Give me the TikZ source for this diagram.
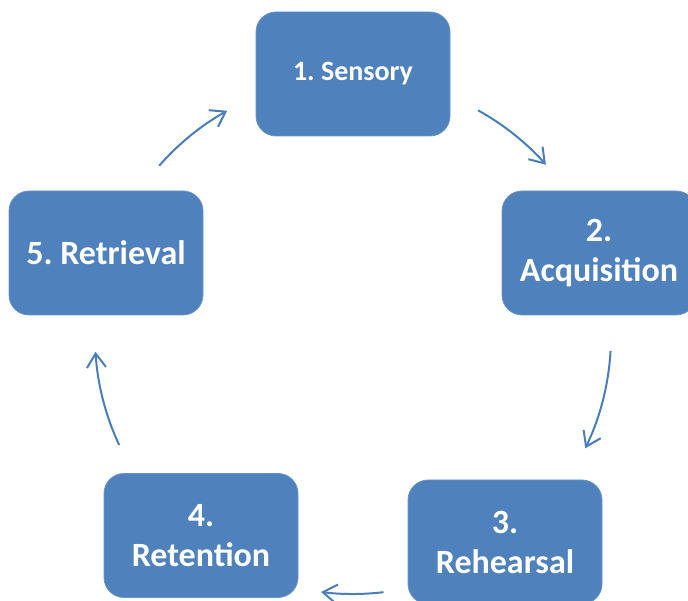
\documentclass[tikz,border=0pt]{standalone}
\usepackage{fontspec}
\setmainfont{Carlito}
\usetikzlibrary{arrows.meta,calc}
\definecolor{stageblue}{HTML}{4F81BD}
\definecolor{arrowblue}{HTML}{4A7EBB}
\frenchspacing
\begin{document}
\begin{tikzpicture}[x=1pt,y=1pt,
  stagebox/.style={rectangle, rounded corners=20pt, fill=stageblue, draw=stageblue!85!white,
    line width=0.8pt, minimum width=194pt, minimum height=124pt, inner sep=0pt,
    text=white, align=center, font=\bfseries\fontsize{34}{40}\selectfont},
  cyclearrow/.style={draw=arrowblue, line width=2pt,
    -{Straight Barb[length=14pt,width=19pt,line width=2pt]}}]
  \clip (0,0) rectangle (688,601);
  \useasboundingbox (0,0) rectangle (688,601);

  % the five stages
  \node[stagebox, font=\bfseries\fontsize{28}{34}\selectfont] (sens) at (353,527) {1. Sensory};
  \node[stagebox] (acq) at (599,348) {2.\\Acquisition};
  \node[stagebox] (reh) at (505,59) {3.\\Rehearsal};
  \node[stagebox] (ret) at (201,65.5) {4.\\Retention};
  \node[stagebox] (rtr) at (106,348) {5. Retrieval};

  % circular arcs between the stages
  \coordinate (ctr) at (353,265);
  \def\rad{258}
  \coordinate (a1s) at ($(ctr)+(61:\rad)$);
  \coordinate (a2s) at ($(ctr)+(-3.3:\rad)$);
  \coordinate (a3s) at ($(ctr)+(-83.2:\rad)$);
  \coordinate (a4s) at ($(ctr)+(205:\rad)$);
  \coordinate (a5s) at ($(ctr)+(138.7:\rad)$);

  \draw[cyclearrow] (a1s) arc[start angle=61, end angle=41.6, radius=\rad];
  \draw[cyclearrow] (a2s) arc[start angle=-3.3, end angle=-25.8, radius=\rad];
  \draw[cyclearrow] (a3s) arc[start angle=-83.2, end angle=-97.1, radius=\rad];
  \draw[cyclearrow] (a4s) arc[start angle=205, end angle=183.5, radius=\rad];
  \draw[cyclearrow] (a5s) arc[start angle=138.7, end angle=119.2, radius=\rad];
\end{tikzpicture}
\end{document}
